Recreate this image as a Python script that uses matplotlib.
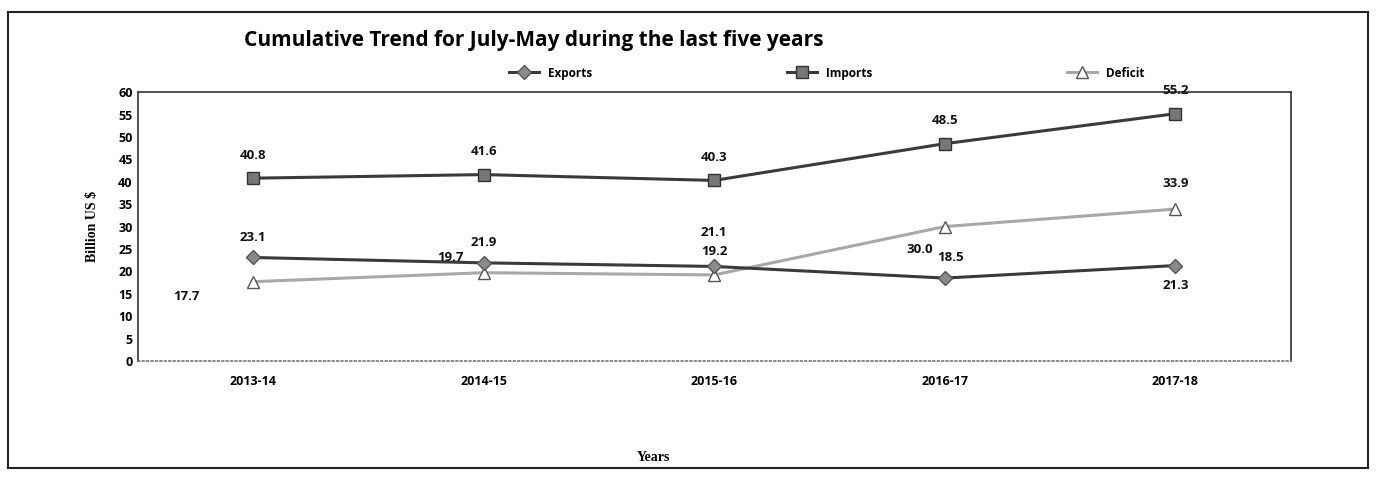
import matplotlib.pyplot as plt
import numpy as np
from matplotlib.patches import Rectangle

years = ['2013-14', '2014-15', '2015-16', '2016-17', '2017-18']
exports = [23.1, 21.9, 21.1, 18.5, 21.3]
imports = [40.8, 41.6, 40.3, 48.5, 55.2]
deficit = [17.7, 19.7, 19.2, 30.0, 33.9]

plt.rcParams['font.family'] = ['Open Sans', 'DejaVu Sans']

fig = plt.figure(figsize=(13.76, 4.8), dpi=100)
ax = fig.add_axes([0.1, 0.248, 0.838, 0.56])

x = np.arange(len(years))
ax.plot(x, exports, color='#3a3a3a', lw=2.2, marker='D', ms=7,
        mfc='#8a8a8a', mec='#555555', label='Exports', zorder=3)
ax.plot(x, imports, color='#3a3a3a', lw=2.2, marker='s', ms=9,
        mfc='#777777', mec='#333333', label='Imports', zorder=3)
ax.plot(x, deficit, color='#a8a8a8', lw=2.2, marker='^', ms=8,
        mfc='white', mec='#555555', label='Deficit', zorder=2)

lab = dict(fontsize=9.5, fontweight='bold', ha='center', color='#111111')
for i, v in enumerate(imports):
    ax.annotate(f'{v:.1f}', (i, v), xytext=(0, 12), textcoords='offset points', va='bottom', **lab)
ex_off = [(0, 10), (0, 10), (0, 20), (4, 10), (0, -10)]
for i, v in enumerate(exports):
    ax.annotate(f'{v:.1f}', (i, v), xytext=ex_off[i], textcoords='offset points',
                va='bottom' if ex_off[i][1] > 0 else 'top', **lab)
de_off = [(-48, -6), (-24, 6), (0, 12), (-18, -12), (0, 14)]
for i, v in enumerate(deficit):
    ax.annotate(f'{v:.1f}', (i, v), xytext=de_off[i], textcoords='offset points',
                va='bottom' if de_off[i][1] > 0 else 'top', **lab)

ax.set_xlim(-0.5, 4.5)
ax.set_ylim(0, 60)
ax.set_yticks(range(0, 61, 5))
ax.set_xticks(x)
ax.set_xticklabels(years)
ax.tick_params(length=0, labelsize=9)
ax.tick_params(axis='x', pad=10)
for t in ax.get_xticklabels() + ax.get_yticklabels():
    t.set_fontweight('bold')
for s in ax.spines.values():
    s.set_color('#333333')
    s.set_linewidth(1.2)
ax.spines['bottom'].set_linestyle(':')
ax.spines['bottom'].set_color('#777777')

ax.set_ylabel('Billion US $', family='Liberation Serif', fontweight='bold', fontsize=10, labelpad=14)
fig.text(0.475, 0.046, 'Years', family='Liberation Serif', fontweight='bold',
         fontsize=10, ha='center', va='center')

fig.text(0.177, 0.915, 'Cumulative Trend for July-May during the last five years',
         fontsize=15, fontweight='bold', va='center')
ax.legend(loc='lower center', bbox_to_anchor=(0.598, 1.025), ncol=3, frameon=False,
          handlelength=2.5, columnspacing=16.5, borderaxespad=0.1,
          prop={'weight': 'bold', 'size': 8.5})

fig.patches.append(Rectangle((0.006, 0.025), 0.988, 0.95, transform=fig.transFigure,
                             fill=False, ec='#222222', lw=1.5))

fig.savefig('out.png', dpi=100)
